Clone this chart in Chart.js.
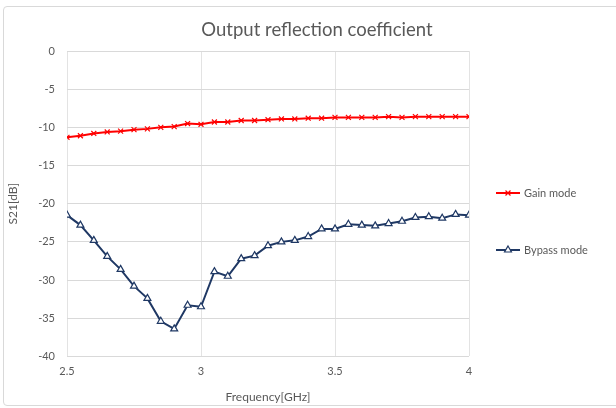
<!DOCTYPE html>
<html>
<head>
<meta charset="utf-8">
<script src="https://cdn.jsdelivr.net/npm/chart.js@4.4.1/dist/chart.umd.min.js"></script>
<style>
  html, body { margin: 0; padding: 0; background: #fff; }
  #frame {
    position: absolute; left: 3px; top: 6px; width: 640px; height: 398px;
    border: 1px solid #d9d9d9; border-radius: 4px;
  }
  #wrap { position: absolute; left: 0; top: 0; width: 616px; height: 408px; }
</style>
</head>
<body>
<div id="frame"></div>
<div id="wrap"><canvas id="grafico" width="616" height="408"></canvas></div>
<script>
// frequencia em GHz, passo 0.05
const freq = [2.5, 2.55, 2.6, 2.65, 2.7, 2.75, 2.8, 2.85, 2.9, 2.95, 3.0,
  3.05, 3.1, 3.15, 3.2, 3.25, 3.3, 3.35, 3.4, 3.45, 3.5,
  3.55, 3.6, 3.65, 3.7, 3.75, 3.8, 3.85, 3.9, 3.95, 4.0];

const gainMode = [-11.3, -11.1, -10.8, -10.6, -10.5, -10.3, -10.2, -10.0, -9.9, -9.5, -9.6,
  -9.3, -9.3, -9.1, -9.1, -9.0, -8.9, -8.9, -8.8, -8.8, -8.7,
  -8.7, -8.7, -8.7, -8.6, -8.7, -8.6, -8.6, -8.6, -8.6, -8.6];

const bypassMode = [-21.5, -22.8, -24.8, -26.9, -28.6, -30.8, -32.4, -35.4, -36.4, -33.3, -33.5,
  -28.9, -29.5, -27.2, -26.8, -25.5, -25.0, -24.8, -24.3, -23.3, -23.3,
  -22.7, -22.8, -22.9, -22.6, -22.3, -21.8, -21.7, -21.9, -21.4, -21.5];

const nomes = ['Gain mode', 'Bypass mode'];
const xTicks = [2.5, 3, 3.5, 4];
const titulo = 'Output reflection coefficient';

const cinza = '#595959';
const fonte = 'Lato, "Open Sans", sans-serif';

function pontos(valores) {
  return freq.map((f, i) => ({ x: f, y: valores[i] }));
}

// titulo centrado na largura toda + legenda desenhada a mao (linha + marcador)
const legendaPlugin = {
  id: 'legendaLateral',
  afterDraw(chart) {
    const ctx = chart.ctx;
    const area = chart.chartArea;

    ctx.save();
    ctx.fillStyle = cinza;
    ctx.font = '18.5px ' + fonte;
    ctx.textAlign = 'center';
    ctx.textBaseline = 'middle';
    ctx.fillText(titulo, 317, 30);
    ctx.restore();

    const x0 = area.right + 27;
    const ys = [193, 250];
    chart.data.datasets.forEach((ds, i) => {
      const y = ys[i];
      ctx.save();
      ctx.strokeStyle = ds.borderColor;
      ctx.lineWidth = 2;
      ctx.beginPath();
      ctx.moveTo(x0, y);
      ctx.lineTo(x0 + 24, y);
      ctx.stroke();
      ctx.strokeStyle = ds.pointBorderColor;
      ctx.fillStyle = ds.pointBackgroundColor;
      ctx.lineWidth = 1.2;
      Chart.helpers.drawPoint(ctx, { pointStyle: ds.pointStyle, radius: ds.pointRadius, rotation: 0, borderWidth: 1.2 }, x0 + 12, y);
      ctx.fillStyle = cinza;
      ctx.font = '11px ' + fonte;
      ctx.textBaseline = 'middle';
      ctx.fillText(ds.label, x0 + 28, y);
      ctx.restore();
    });
  }
};

const ctx = document.getElementById('grafico').getContext('2d');
new Chart(ctx, {
  type: 'line',
  data: {
    datasets: [{
      label: nomes[0],
      data: pontos(gainMode),
      borderColor: '#ff0000',
      borderWidth: 2,
      pointStyle: 'crossRot',
      pointRadius: 3.5,
      pointBorderColor: '#ff0000',
      pointBackgroundColor: '#ff0000',
      pointBorderWidth: 1.2
    }, {
      label: nomes[1],
      data: pontos(bypassMode),
      borderColor: '#1f3864',
      borderWidth: 2,
      pointStyle: 'triangle',
      pointRadius: 4,
      pointBorderColor: '#1f3864',
      pointBackgroundColor: '#ffffff',
      pointBorderWidth: 1.2
    }]
  },
  options: {
    responsive: false,
    animation: false,
    layout: { padding: { left: 6, right: 147, top: 51, bottom: 4 } },
    plugins: {
      legend: { display: false },
      tooltip: { enabled: false },
      title: { display: false }
    },
    scales: {
      x: {
        type: 'linear',
        min: 2.5,
        max: 4,
        afterBuildTicks(scale) {
          scale.ticks = xTicks.map(v => ({ value: v }));
        },
        ticks: {
          color: cinza,
          font: { family: fonte, size: 11 },
          padding: 8,
          callback: v => String(v)
        },
        grid: { color: '#e3e3e3', drawTicks: false },
        border: { display: false },
        title: {
          display: true,
          text: 'Frequency[GHz]',
          color: cinza,
          font: { family: fonte, size: 12 },
          padding: { top: 4, bottom: 0 }
        }
      },
      y: {
        min: -40,
        max: 0,
        ticks: {
          stepSize: 5,
          color: cinza,
          font: { family: fonte, size: 11 },
          padding: 12
        },
        grid: { color: '#d9d9d9', drawTicks: false },
        border: { display: false },
        title: {
          display: true,
          text: 'S21[dB]',
          color: cinza,
          font: { family: fonte, size: 12 },
          padding: { top: 0, bottom: 8 }
        },
        afterFit(scale) { scale.width = 61; }
      }
    }
  },
  plugins: [legendaPlugin]
});
</script>
</body>
</html>
